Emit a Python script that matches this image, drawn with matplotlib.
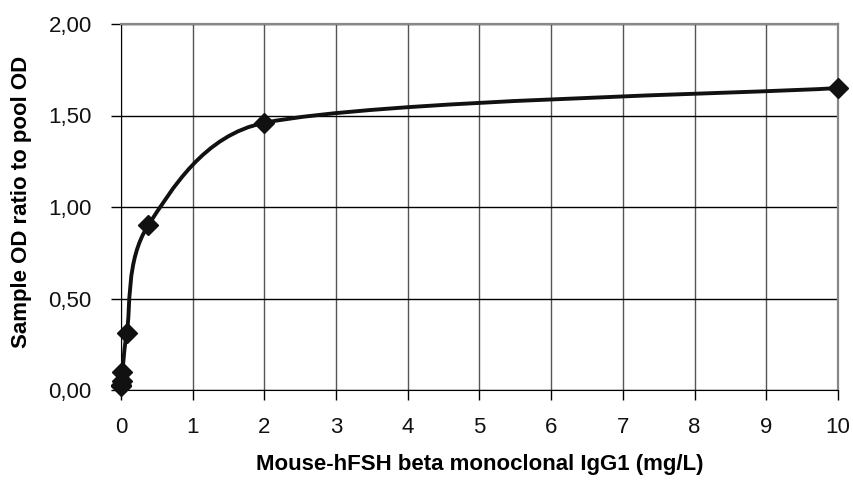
import numpy as np
import matplotlib.pyplot as plt
from matplotlib.path import Path
from matplotlib.patches import PathPatch
from matplotlib.ticker import FuncFormatter

plt.rcParams['font.family'] = ['Liberation Sans', 'DejaVu Sans']

conc = [0.0, 0.005, 0.01, 0.02, 0.08, 0.38, 2.0, 10.0]
ratio = [0.02, 0.03, 0.05, 0.10, 0.31, 0.90, 1.46, 1.65]

# pixels per data unit, used only to shape the smoothed line
SX, SY = 71.7, 183.0


def smooth_path(xs, ys, cap=0.4):
    # spreadsheet-style smoothed line: Bezier handles = (next - prev) / 6,
    # shortened when a neighbour segment is much longer than this one
    pts = np.column_stack([xs, ys]) * [SX, SY]
    n = len(pts)
    verts = [pts[0]]
    codes = [Path.MOVETO]
    for i in range(n - 1):
        p0 = pts[max(i - 1, 0)]
        p1 = pts[i]
        p2 = pts[i + 1]
        p3 = pts[min(i + 2, n - 1)]
        L = np.hypot(*(p2 - p1))
        h1 = (p2 - p0) / 6.0
        h2 = (p3 - p1) / 6.0
        for h in (h1, h2):
            m = np.hypot(*h)
            if m > cap * L:
                h *= cap * L / m
        verts += [p1 + h1, p2 - h2, p2]
        codes += [Path.CURVE4] * 3
    verts = np.array(verts) / [SX, SY]
    return Path(verts, codes)


fig = plt.figure(figsize=(8.54, 4.8), dpi=100)
ax = fig.add_axes([121 / 854, 1 - 390 / 480, 717 / 854, 366 / 480])

ax.add_patch(PathPatch(smooth_path(conc, ratio), facecolor='none',
                       edgecolor='#111111', lw=2.8, zorder=3, clip_on=False))
ax.plot(conc, ratio, ls='none', marker='D', ms=10, color='#111111',
        zorder=4, clip_on=False)

ax.set_xlim(0, 10)
ax.set_ylim(0, 2)
ax.set_xticks(range(0, 11))
ax.set_yticks(np.arange(0, 2.01, 0.5))
ax.yaxis.set_major_formatter(FuncFormatter(lambda v, p: f'{v:.2f}'.replace('.', ',')))

ax.grid(axis='y', color='black', lw=1.0)
ax.grid(axis='x', color='#555555', lw=1.0)
ax.set_axisbelow(True)

for s in ['top', 'right']:
    ax.spines[s].set_color('#888888')
    ax.spines[s].set_linewidth(1.6)
ax.spines['left'].set_color('black')
ax.spines['bottom'].set_color('black')
ax.tick_params(direction='out', length=7, width=1.0, labelsize=16,
               colors='black', labelcolor='#111111')
ax.tick_params(axis='y', pad=14)
ax.tick_params(axis='x', pad=12.5)

ax.set_xlabel('Mouse-hFSH beta monoclonal IgG1 (mg/L)', fontsize=16,
              fontweight='bold')
ax.set_ylabel('Sample OD ratio to pool OD', fontsize=16, fontweight='bold')
ax.xaxis.set_label_coords(0.5, -0.175)
ax.yaxis.set_label_coords(-0.124, 0.513)

fig.savefig('out.png', dpi=100)
